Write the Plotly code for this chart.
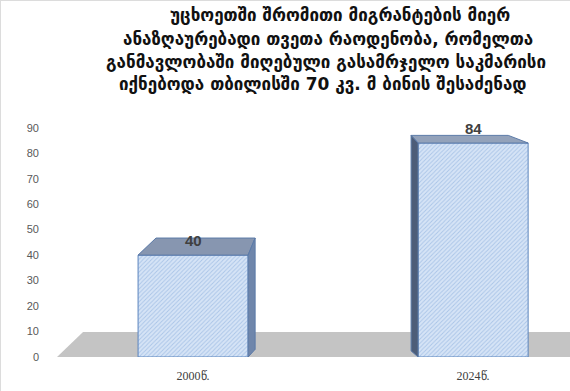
import plotly.graph_objects as go

categories = ["2000წ.", "2024წ."]
values = [40, 84]
title_lines = [
    "უცხოეთში შრომითი მიგრანტების მიერ",
    "ანაზღაურებადი თვეთა რაოდენობა, რომელთა",
    "განმავლობაში მიღებული გასამრჯელო საკმარისი",
    "იქნებოდა თბილისში 70 კვ. მ ბინის შესაძენად",
]
y_ticks = list(range(0, 100, 10))

# layout constants (pixels)
W, H = 570, 391
ML, MR, MT, MB = 50, 0, 115, 34
PH = H - MT - MB
PW = W - ML - MR
TITLE_Y_PX = [15, 39, 62, 84]
TITLE_X_PX = [340, 328, 326, 323]

# style constants (3D look)
BAR_W = 0.393
FLOOR_H = 9.8
depth = [
    dict(dxl=0.064, dxr=0.025, dyt=6.7, dyb=3.0, side="right", top="#8796b0", sidec="#6f86ab"),
    dict(dxl=-0.025, dxr=-0.071, dyt=3.0, dyb=2.4, side="left", top="#93a2ba", sidec="#4d5d78"),
]

xs = list(range(len(categories)))
fig = go.Figure()
fig.add_trace(go.Bar(
    x=xs, y=values, width=BAR_W,
    marker=dict(
        color="#d3e2f4",
        line=dict(color="#5b84bd", width=1),
        pattern=dict(shape="/", size=3, solidity=0.3, fgcolor="#aac5e8", bgcolor="#d6e4f6", fillmode="replace"),
    ),
    hoverinfo="skip",
))

shapes = []
# floor
shapes.append(dict(type="path", xref="x", yref="y", layer="below",
                   path=f"M -0.486,0 L -0.393,{FLOOR_H} L 1.5,{FLOOR_H} L 1.5,0 Z",
                   fillcolor="#c4c4c4", line=dict(width=0)))
for x, v, d in zip(xs, values, depth):
    l = x - BAR_W / 2
    r = x + BAR_W / 2
    shapes.append(dict(type="path", xref="x", yref="y", layer="above",
                       path=f"M {l},{v} L {l + d['dxl']},{v + d['dyt']} L {r + d['dxr']},{v + d['dyt']} L {r},{v} Z",
                       fillcolor=d["top"], line=dict(color="#5b7aa8", width=1)))
    if d["side"] == "right":
        sx, dx = r, d["dxr"]
    else:
        sx, dx = l, d["dxl"]
    shapes.append(dict(type="path", xref="x", yref="y", layer="above",
                       path=f"M {sx},{v} L {sx + dx},{v + d['dyt']} L {sx + dx},{d['dyb']} L {sx},0 Z",
                       fillcolor=d["sidec"], line=dict(color="#5b7aa8", width=1)))

# faint page border (top and left)
shapes.append(dict(type="line", xref="paper", yref="paper",
                   x0=-ML / PW + 0.5 / PW, x1=-ML / PW + 0.5 / PW, y0=-MB / PH, y1=(PH + MT) / PH,
                   line=dict(color="#dcdcdc", width=1)))
shapes.append(dict(type="line", xref="paper", yref="paper",
                   x0=-ML / PW, x1=1, y0=(PH + MT - 0.5) / PH, y1=(PH + MT - 0.5) / PH,
                   line=dict(color="#dcdcdc", width=1)))

annotations = []
for x, v in zip(xs, values):
    annotations.append(dict(x=x, y=v, xref="x", yref="y", text=f"<b>{v}</b>", showarrow=False,
                            yshift=15, font=dict(family="Liberation Sans, Arial", size=15, color="#404040")))
for line, px, py in zip(title_lines, TITLE_X_PX, TITLE_Y_PX):
    annotations.append(dict(x=(px - ML) / PW, y=(H - MB - py) / PH, xref="paper", yref="paper",
                            text=f"<b>{line}</b>", showarrow=False, xanchor="center", yanchor="middle",
                            font=dict(family="DejaVu Sans", size=17, color="#111111")))

fig.update_layout(
    width=W, height=H,
    margin=dict(l=ML, r=MR, t=MT, b=MB),
    paper_bgcolor="white", plot_bgcolor="white",
    showlegend=False,
    shapes=shapes,
    annotations=annotations,
    xaxis=dict(range=[-0.511, 1.346], tickvals=xs, ticktext=categories, showgrid=False,
               zeroline=False, showline=False, ticks="", ticklabelstandoff=10,
               tickfont=dict(family="Liberation Serif, Times New Roman", size=12, color="#404040")),
    yaxis=dict(range=[0, 95], tickvals=y_ticks, showgrid=False, zeroline=False, showline=False,
               ticks="", ticklabelstandoff=10,
               tickfont=dict(family="Liberation Sans, Arial", size=11, color="#595959")),
)

fig.write_html("out.html", config={"displayModeBar": False},
               post_script="document.body.style.margin='0';document.body.style.overflow='hidden';")
